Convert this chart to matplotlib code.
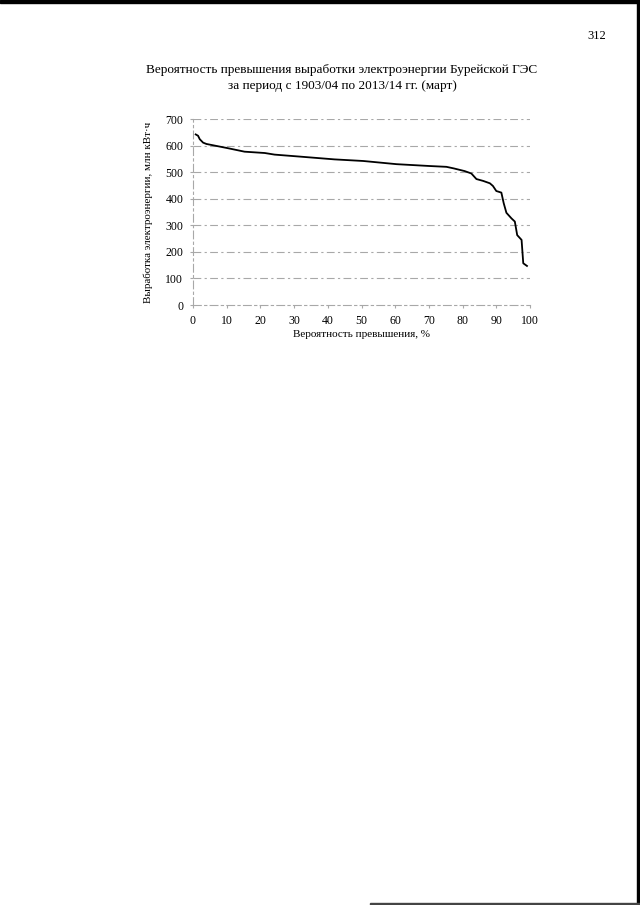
import matplotlib
matplotlib.use("Agg")
import matplotlib.pyplot as plt
from matplotlib.patches import Rectangle

# Data
probability = [0.8, 1.5, 2.0, 3.0, 4.0, 6.4, 10.4, 15.3, 21.3, 24.2, 32.2, 42.0,
               50.5, 60.4, 70.3, 75.2, 77.4, 80.6, 82.6, 84.1, 86.1, 88.1,
               89.0, 90.0, 91.5, 92.2, 93.0, 94.5, 95.5, 96.2, 97.5, 98.0, 99.1]
energy = [642, 637, 624, 611, 606, 600, 590, 577, 572, 566, 558, 548,
          542, 530, 523, 520, 514, 504, 495, 474, 467, 458,
          448, 429, 423, 383, 347, 326, 314, 263, 245, 157, 147]
x_ticks = [0, 10, 20, 30, 40, 50, 60, 70, 80, 90, 100]
y_ticks = [0, 100, 200, 300, 400, 500, 600, 700]

title = ("Вероятность превышения выработки электроэнергии Бурейской ГЭС\n"
         "за период с 1903/04 по 2013/14 гг. (март)")
xlabel = "Вероятность превышения, %"
ylabel = "Выработка электроэнергии, млн кВт·ч"
page_number = "312"

plt.rcParams['font.family'] = ['Liberation Serif', 'DejaVu Serif']

fig = plt.figure(figsize=(6.4, 9.05), dpi=100)
fig.patch.set_facecolor('white')

W, H = 640, 905
ax = fig.add_axes([193 / W, (H - 305) / H, (530 - 193) / W, (305 - 119) / H])
ax.set_xlim(0, 100)
ax.set_ylim(0, 700)

grid_style = (0, (7, 3, 2, 3))
for v in y_ticks[1:]:
    ax.axhline(v, color='#a8a8a8', lw=0.8, ls=grid_style, zorder=1)

ax.plot(probability, energy, color='black', lw=1.3, zorder=3)

for s in ['top', 'right']:
    ax.spines[s].set_visible(False)
for s in ['left', 'bottom']:
    ax.spines[s].set_color('#a8a8a8')
    ax.spines[s].set_linestyle(grid_style)
    ax.spines[s].set_linewidth(0.8)

ax.set_xticks(x_ticks)
ax.set_yticks(y_ticks)
ax.set_xticklabels([str(t) for t in x_ticks], fontsize=8.5)
ax.set_yticklabels([str(t) for t in y_ticks], fontsize=8.5)
ax.tick_params(axis='both', length=2, color='#a8a8a8', pad=5)

ax.set_xlabel(xlabel, fontsize=8, labelpad=2.5)
ax.set_ylabel(ylabel, fontsize=7.9, labelpad=9)

fig.text(342 / W, 1 - 78 / H, title, ha='center', va='center',
         fontsize=9.5, linespacing=1.45)
fig.text(597 / W, 1 - 36 / H, page_number, ha='center', va='center', fontsize=9)

# scan edge artifacts
fig.patches.append(Rectangle((637 / W, 0), 3 / W, 1, transform=fig.transFigure,
                             color='black', zorder=0))
fig.patches.append(Rectangle((0, 1 - 3 / H), 1, 3 / H, transform=fig.transFigure,
                             color='black', zorder=0))
fig.patches.append(Rectangle((370 / W, 0), 270 / W, 2 / H, transform=fig.transFigure,
                             color='#444444', zorder=0))

fig.savefig("out.png", dpi=100, facecolor='white')
